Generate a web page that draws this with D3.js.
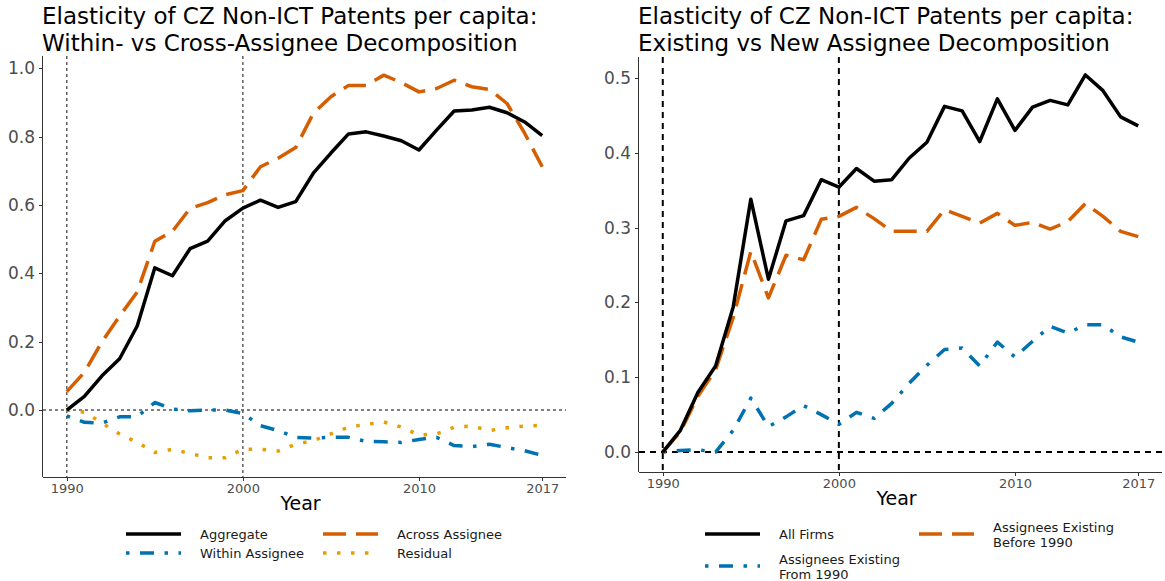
<!DOCTYPE html>
<html lang="en">
<head>
<meta charset="utf-8">
<title>Elasticity of CZ Non-ICT Patents per capita</title>
<script src="https://cdn.jsdelivr.net/npm/d3@7"></script>
<style>
  body { margin: 0; background: #fff; }
  svg text { font-family: "DejaVu Sans", sans-serif; }
  .axis path, .axis line { stroke: #333; stroke-width: 1.1; shape-rendering: crispEdges; }
  .ytick text { font-size: 17px; fill: #4d4d4d; }
  .xtick text { font-size: 13px; fill: #4d4d4d; }
</style>
</head>
<body>
<script>
// years 1990..2017
var years = d3.range(1990, 2018);
var xTicks = [1990, 2000, 2010, 2017];

// left panel: within vs cross assignee
var aggregate = [0.00, 0.04, 0.10, 0.15, 0.246, 0.416, 0.393, 0.472, 0.494, 0.554, 0.591, 0.614, 0.593, 0.61,
  0.693, 0.752, 0.808, 0.814, 0.802, 0.788, 0.761, 0.819, 0.875, 0.878, 0.886, 0.87, 0.843, 0.803];
var acrossAssignee = [0.054, 0.11, 0.20, 0.275, 0.345, 0.494, 0.523, 0.59, 0.607, 0.63, 0.642, 0.712, 0.737, 0.768,
  0.868, 0.917, 0.95, 0.95, 0.98, 0.958, 0.931, 0.941, 0.965, 0.946, 0.938, 0.897, 0.81, 0.712];
var withinAssignee = [-0.017, -0.036, -0.038, -0.02, -0.019, 0.022, 0.003, -0.002, 0.0, 0.0, -0.01, -0.046, -0.06, -0.08,
  -0.082, -0.08, -0.08, -0.092, -0.093, -0.095, -0.086, -0.08, -0.104, -0.107, -0.1, -0.11, -0.119, -0.133];
var residual = [0.0, -0.006, -0.038, -0.07, -0.095, -0.124, -0.115, -0.127, -0.14, -0.14, -0.115, -0.115, -0.12, -0.1,
  -0.09, -0.07, -0.05, -0.042, -0.035, -0.05, -0.073, -0.07, -0.05, -0.047, -0.06, -0.052, -0.047, -0.045];
var leftTicks = [0.0, 0.2, 0.4, 0.6, 0.8, 1.0];

// right panel: existing vs new assignees
var allFirms = [0.0, 0.029, 0.08, 0.115, 0.194, 0.338, 0.231, 0.309, 0.316, 0.364, 0.354, 0.379, 0.362, 0.364,
  0.393, 0.414, 0.462, 0.456, 0.415, 0.472, 0.43, 0.461, 0.47, 0.464, 0.504, 0.483, 0.448, 0.436];
var existingBefore = [0.0, 0.027, 0.075, 0.11, 0.18, 0.268, 0.206, 0.263, 0.257, 0.311, 0.315, 0.327, 0.312, 0.295,
  0.295, 0.295, 0.324, 0.315, 0.306, 0.319, 0.303, 0.307, 0.298, 0.308, 0.332, 0.315, 0.295, 0.288];
var existingFrom = [0.0, 0.002, 0.003, 0.0, 0.029, 0.072, 0.034, 0.047, 0.062, 0.05, 0.037, 0.053, 0.045, 0.065,
  0.092, 0.116, 0.137, 0.139, 0.115, 0.147, 0.127, 0.148, 0.168, 0.159, 0.17, 0.17, 0.154, 0.147];
var rightTicks = [0.0, 0.1, 0.2, 0.3, 0.4, 0.5];

var styles = {
  solid:   {color: "#000000", dash: null},
  longdash:{color: "#D55E00", dash: "23,10"},
  dotdash: {color: "#0072B2", dash: "3.5,10.5,14,10.5"},
  dotted:  {color: "#E69F00", dash: "3.5,10.5"}
};

var svg = d3.select("body").append("svg")
  .attr("width", 1165).attr("height", 581);

function panel(opt) {
  var g = svg.append("g");
  var x = d3.scaleLinear().domain([1988.65, 2018.35]).range([opt.left, opt.right]);
  var y = d3.scaleLinear().domain(opt.ydomain).range([opt.bottom, opt.top]);

  // titles (two lines)
  g.selectAll("text.title").data(opt.title).enter().append("text")
    .attr("class", "title")
    .attr("x", opt.left - 1).attr("y", function(d, i) { return 23.5 + i * 27; })
    .attr("font-size", "23px").attr("fill", "#000")
    .text(function(d) { return d; });

  // reference lines
  [1990, 2000].forEach(function(v) {
    g.append("line").attr("x1", x(v)).attr("x2", x(v)).attr("y1", opt.top).attr("y2", opt.bottom)
      .attr("stroke", opt.refColor).attr("stroke-width", opt.refWidth).attr("stroke-dasharray", opt.refDash);
  });
  g.append("line").attr("x1", opt.left).attr("x2", opt.right).attr("y1", y(0)).attr("y2", y(0))
    .attr("stroke", opt.refColor).attr("stroke-width", opt.refWidth).attr("stroke-dasharray", opt.refDash);

  // series
  var line = d3.line().x(function(d, i) { return x(years[i]); }).y(function(d) { return y(d); });
  opt.series.forEach(function(s) {
    var st = styles[s.style];
    g.append("path").datum(s.values)
      .attr("d", line).attr("fill", "none")
      .attr("stroke", st.color).attr("stroke-width", 3.5)
      .attr("stroke-linejoin", "round")
      .attr("stroke-dasharray", st.dash);
  });

  // axes
  g.append("g").attr("class", "axis xtick")
    .attr("transform", "translate(0," + opt.bottom + ")")
    .call(d3.axisBottom(x).tickValues(xTicks).tickFormat(d3.format("d")).tickSize(4).tickPadding(3))
    .call(function(a) { a.select(".domain").attr("d", "M" + opt.left + ",0.5H" + opt.right); });
  g.append("g").attr("class", "axis ytick")
    .attr("transform", "translate(" + opt.left + ",0)")
    .call(d3.axisLeft(y).tickValues(opt.yticks).tickFormat(d3.format(".1f")).tickSize(4).tickPadding(4))
    .call(function(a) { a.select(".domain").attr("d", "M-0.5," + opt.top + "V" + opt.bottom); });

  g.append("text").attr("x", (opt.left + opt.right) / 2 - 4).attr("y", opt.bottom + 33)
    .attr("text-anchor", "middle").attr("font-size", "19px").text("Year");

  // legend
  opt.legend.forEach(function(l) {
    var st = styles[l.style];
    g.append("line").attr("x1", l.x).attr("x2", l.x + 55).attr("y1", l.y).attr("y2", l.y)
      .attr("stroke", st.color).attr("stroke-width", 3.5).attr("stroke-dasharray", st.dash);
    var t = g.append("text").attr("x", l.x + 74).attr("font-size", "13px").attr("fill", "#1a1a1a");
    var n = l.label.length;
    l.label.forEach(function(s, i) {
      t.append("tspan").attr("x", l.x + 74).attr("y", l.y + 5 + (i - (n - 1) / 2) * 15).text(s);
    });
  });
}

panel({
  left: 43, right: 566, top: 56, bottom: 477,
  ydomain: [-0.196, 1.036], yticks: leftTicks,
  title: ["Elasticity of CZ Non-ICT Patents per capita:", "Within- vs Cross-Assignee Decomposition"],
  refColor: "#555", refWidth: 1.4, refDash: "3,3",
  series: [
    {values: residual, style: "dotted"},
    {values: withinAssignee, style: "dotdash"},
    {values: acrossAssignee, style: "longdash"},
    {values: aggregate, style: "solid"}
  ],
  legend: [
    {x: 126, y: 534, style: "solid", label: ["Aggregate"]},
    {x: 126, y: 553, style: "dotdash", label: ["Within Assignee"]},
    {x: 323, y: 534, style: "longdash", label: ["Across Assignee"]},
    {x: 323, y: 553, style: "dotted", label: ["Residual"]}
  ]
});

panel({
  left: 639, right: 1162, top: 57, bottom: 472,
  ydomain: [-0.0267, 0.528], yticks: rightTicks,
  title: ["Elasticity of CZ Non-ICT Patents per capita:", "Existing vs New Assignee Decomposition"],
  refColor: "#000", refWidth: 2, refDash: "6,5",
  series: [
    {values: existingFrom, style: "dotdash"},
    {values: existingBefore, style: "longdash"},
    {values: allFirms, style: "solid"}
  ],
  legend: [
    {x: 705, y: 534, style: "solid", label: ["All Firms"]},
    {x: 705, y: 566, style: "dotdash", label: ["Assignees Existing", "From 1990"]},
    {x: 919, y: 534, style: "longdash", label: ["Assignees Existing", "Before 1990"]}
  ]
});
</script>
</body>
</html>
